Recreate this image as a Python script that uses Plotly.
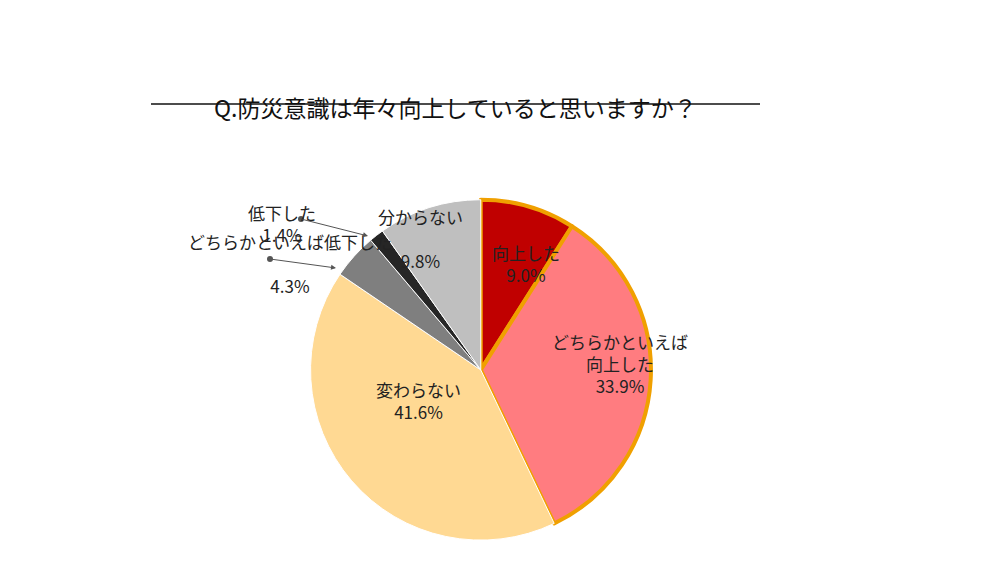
import plotly.graph_objects as go

W, H = 988, 574

labels = ["向上した", "どちらかといえば向上した", "変わらない",
          "どちらかといえば低下した", "低下した", "分からない"]
values = [9.0, 33.9, 41.6, 4.3, 1.4, 9.8]
colors = ["#C00000", "#FF7C80", "#FFD993", "#7F7F7F", "#262626", "#BFBFBF"]
edge = ["#F0A000", "#F0A000", "white", "white", "white", "white"]
edge_w = [4, 4, 1, 1, 1, 1]

# label positions in pixels (x, y from top) and display text
label_pos = [(518, 255), (612, 355), (410, 418), (178, 255), (238, 190), (412, 230)]
label_txt = ["向上した<br>9.0%", "どちらかといえば<br>向上した<br>33.9%", "変わらない<br>41.6%",
             "どちらかといえば低下した<br><br>4.3%", "低下した<br>1.4%", "分からない<br><br>9.8%"]

def px(x, y):
    return x / W, 1 - y / H

fig = go.Figure(go.Pie(
    labels=labels, values=values, sort=False, direction="clockwise", rotation=0,
    marker=dict(colors=colors, line=dict(color=edge, width=edge_w)),
    textinfo="none", hoverinfo="label+percent", showlegend=False,
    domain=dict(x=[0.306, 0.651], y=[0.073, 0.666]),
))

anns = []
for (x, y), t in zip(label_pos, label_txt):
    ax, ay = px(x, y)
    anns.append(dict(x=ax, y=ay, xref="paper", yref="paper", text=t, showarrow=False,
                     font=dict(size=17, color="#222")))
ax, ay = px(447, 80)
anns.append(dict(x=ax, y=ay, xref="paper", yref="paper", showarrow=False,
                 text="Q.防災意識は年々向上していると思いますか？",
                 font=dict(size=23, color="#111")))

shapes = [dict(type="line", xref="paper", yref="paper",
               x0=143 / W, x1=752 / W, y0=1 - 96 / H, y1=1 - 96 / H,
               line=dict(color="#111", width=1.5))]
for (x0, y0), (x1, y1) in [((293, 211), (360, 228)), ((262, 251), (328, 260))]:
    a0, b0 = px(x0, y0)
    a1, b1 = px(x1, y1)
    shapes.append(dict(type="circle", xref="paper", yref="paper",
                       x0=a0 - 3 / W, x1=a0 + 3 / W, y0=b0 - 3 / H, y1=b0 + 3 / H,
                       fillcolor="#555", line=dict(width=0)))
    anns.append(dict(x=a1, y=b1, ax=x0 - x1, ay=y0 - y1, axref="pixel", ayref="pixel",
                     xref="paper", yref="paper", text="", showarrow=True,
                     arrowhead=2, arrowsize=1, arrowwidth=1, arrowcolor="#555"))

fig.update_layout(width=W, height=H, margin=dict(l=0, r=0, t=0, b=0),
                  paper_bgcolor="white", plot_bgcolor="white",
                  font=dict(family="Noto Sans CJK JP"),
                  annotations=anns, shapes=shapes)
fig.write_html("out.html")
